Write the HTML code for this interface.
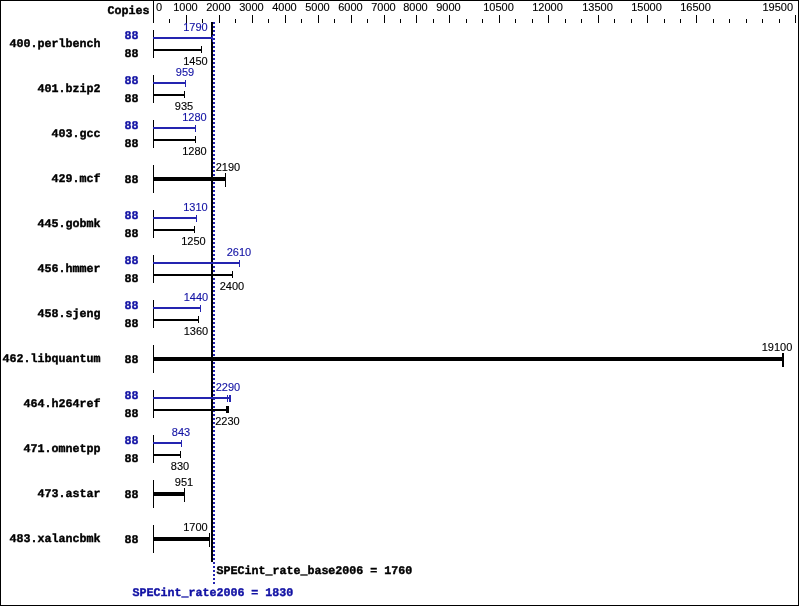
<!DOCTYPE html>
<html lang="en">
<head>
<meta charset="utf-8">
<title>SPECint_rate2006 result graph</title>
<style>
html, body { margin: 0; padding: 0; background: #fff; }
body { width: 799px; height: 606px; overflow: hidden; }
svg { display: block; }
svg rect { shape-rendering: crispEdges; }
text.n { font-family: "Liberation Sans", "DejaVu Sans", sans-serif; font-size: 11px; stroke-width: 0.12px; }
text.m { font-family: "Liberation Mono", "DejaVu Sans Mono", monospace; font-size: 11.67px; font-weight: bold; letter-spacing: -0.003px; stroke-width: 0.4px; text-rendering: geometricPrecision; }
</style>
</head>
<body>
<svg width="799" height="606" viewBox="0 0 799 606">
<rect x="0" y="0" width="799" height="606" fill="#fff"/>
<rect x="0" y="0" width="799" height="1" fill="#000"/>
<rect x="0" y="605" width="799" height="1" fill="#000"/>
<rect x="0" y="0" width="1" height="606" fill="#000"/>
<rect x="798" y="0" width="1" height="606" fill="#000"/>
<text class="m" x="107.5" y="14" fill="#000" stroke="#000">Copies</text>
<rect x="153" y="0" width="1" height="23" fill="#000"/>
<rect x="169" y="19" width="1" height="4" fill="#000"/>
<rect x="186" y="15" width="1" height="8" fill="#000"/>
<rect x="202" y="19" width="1" height="4" fill="#000"/>
<rect x="219" y="15" width="1" height="8" fill="#000"/>
<rect x="235" y="19" width="1" height="4" fill="#000"/>
<rect x="252" y="15" width="1" height="8" fill="#000"/>
<rect x="268" y="19" width="1" height="4" fill="#000"/>
<rect x="285" y="15" width="1" height="8" fill="#000"/>
<rect x="301" y="19" width="1" height="4" fill="#000"/>
<rect x="318" y="15" width="1" height="8" fill="#000"/>
<rect x="334" y="19" width="1" height="4" fill="#000"/>
<rect x="351" y="15" width="1" height="8" fill="#000"/>
<rect x="367" y="19" width="1" height="4" fill="#000"/>
<rect x="384" y="15" width="1" height="8" fill="#000"/>
<rect x="400" y="19" width="1" height="4" fill="#000"/>
<rect x="416" y="15" width="1" height="8" fill="#000"/>
<rect x="433" y="19" width="1" height="4" fill="#000"/>
<rect x="449" y="15" width="1" height="8" fill="#000"/>
<rect x="466" y="19" width="1" height="4" fill="#000"/>
<rect x="482" y="19" width="1" height="4" fill="#000"/>
<rect x="499" y="15" width="1" height="8" fill="#000"/>
<rect x="515" y="19" width="1" height="4" fill="#000"/>
<rect x="532" y="19" width="1" height="4" fill="#000"/>
<rect x="548" y="15" width="1" height="8" fill="#000"/>
<rect x="565" y="19" width="1" height="4" fill="#000"/>
<rect x="581" y="19" width="1" height="4" fill="#000"/>
<rect x="598" y="15" width="1" height="8" fill="#000"/>
<rect x="614" y="19" width="1" height="4" fill="#000"/>
<rect x="631" y="19" width="1" height="4" fill="#000"/>
<rect x="647" y="15" width="1" height="8" fill="#000"/>
<rect x="664" y="19" width="1" height="4" fill="#000"/>
<rect x="680" y="19" width="1" height="4" fill="#000"/>
<rect x="696" y="15" width="1" height="8" fill="#000"/>
<rect x="713" y="19" width="1" height="4" fill="#000"/>
<rect x="729" y="19" width="1" height="4" fill="#000"/>
<rect x="746" y="19" width="1" height="4" fill="#000"/>
<rect x="762" y="19" width="1" height="4" fill="#000"/>
<rect x="779" y="19" width="1" height="4" fill="#000"/>
<rect x="795" y="15" width="1" height="8" fill="#000"/>
<text class="n" x="156" y="11" text-anchor="start" fill="#000" stroke="#000">0</text>
<text class="n" x="185.5" y="11" text-anchor="middle" fill="#000" stroke="#000">1000</text>
<text class="n" x="218.5" y="11" text-anchor="middle" fill="#000" stroke="#000">2000</text>
<text class="n" x="251.5" y="11" text-anchor="middle" fill="#000" stroke="#000">3000</text>
<text class="n" x="284.5" y="11" text-anchor="middle" fill="#000" stroke="#000">4000</text>
<text class="n" x="317.5" y="11" text-anchor="middle" fill="#000" stroke="#000">5000</text>
<text class="n" x="350.5" y="11" text-anchor="middle" fill="#000" stroke="#000">6000</text>
<text class="n" x="383.5" y="11" text-anchor="middle" fill="#000" stroke="#000">7000</text>
<text class="n" x="415.5" y="11" text-anchor="middle" fill="#000" stroke="#000">8000</text>
<text class="n" x="448.5" y="11" text-anchor="middle" fill="#000" stroke="#000">9000</text>
<text class="n" x="498.5" y="11" text-anchor="middle" fill="#000" stroke="#000">10500</text>
<text class="n" x="547.5" y="11" text-anchor="middle" fill="#000" stroke="#000">12000</text>
<text class="n" x="597.5" y="11" text-anchor="middle" fill="#000" stroke="#000">13500</text>
<text class="n" x="646.5" y="11" text-anchor="middle" fill="#000" stroke="#000">15000</text>
<text class="n" x="695.5" y="11" text-anchor="middle" fill="#000" stroke="#000">16500</text>
<text class="n" x="793" y="11" text-anchor="end" fill="#000" stroke="#000">19500</text>
<rect x="211" y="22" width="2" height="540" fill="#000"/>
<rect x="213" y="22" width="2" height="2" fill="#2424b0"/>
<rect x="213" y="26" width="2" height="2" fill="#2424b0"/>
<rect x="213" y="30" width="2" height="2" fill="#2424b0"/>
<rect x="213" y="34" width="2" height="2" fill="#2424b0"/>
<rect x="213" y="38" width="2" height="2" fill="#2424b0"/>
<rect x="213" y="42" width="2" height="2" fill="#2424b0"/>
<rect x="213" y="46" width="2" height="2" fill="#2424b0"/>
<rect x="213" y="50" width="2" height="2" fill="#2424b0"/>
<rect x="213" y="54" width="2" height="2" fill="#2424b0"/>
<rect x="213" y="58" width="2" height="2" fill="#2424b0"/>
<rect x="213" y="62" width="2" height="2" fill="#2424b0"/>
<rect x="213" y="66" width="2" height="2" fill="#2424b0"/>
<rect x="213" y="70" width="2" height="2" fill="#2424b0"/>
<rect x="213" y="74" width="2" height="2" fill="#2424b0"/>
<rect x="213" y="78" width="2" height="2" fill="#2424b0"/>
<rect x="213" y="82" width="2" height="2" fill="#2424b0"/>
<rect x="213" y="86" width="2" height="2" fill="#2424b0"/>
<rect x="213" y="90" width="2" height="2" fill="#2424b0"/>
<rect x="213" y="94" width="2" height="2" fill="#2424b0"/>
<rect x="213" y="98" width="2" height="2" fill="#2424b0"/>
<rect x="213" y="102" width="2" height="2" fill="#2424b0"/>
<rect x="213" y="106" width="2" height="2" fill="#2424b0"/>
<rect x="213" y="110" width="2" height="2" fill="#2424b0"/>
<rect x="213" y="114" width="2" height="2" fill="#2424b0"/>
<rect x="213" y="118" width="2" height="2" fill="#2424b0"/>
<rect x="213" y="122" width="2" height="2" fill="#2424b0"/>
<rect x="213" y="126" width="2" height="2" fill="#2424b0"/>
<rect x="213" y="130" width="2" height="2" fill="#2424b0"/>
<rect x="213" y="134" width="2" height="2" fill="#2424b0"/>
<rect x="213" y="138" width="2" height="2" fill="#2424b0"/>
<rect x="213" y="142" width="2" height="2" fill="#2424b0"/>
<rect x="213" y="146" width="2" height="2" fill="#2424b0"/>
<rect x="213" y="150" width="2" height="2" fill="#2424b0"/>
<rect x="213" y="154" width="2" height="2" fill="#2424b0"/>
<rect x="213" y="158" width="2" height="2" fill="#2424b0"/>
<rect x="213" y="162" width="2" height="2" fill="#2424b0"/>
<rect x="213" y="166" width="2" height="2" fill="#2424b0"/>
<rect x="213" y="170" width="2" height="2" fill="#2424b0"/>
<rect x="213" y="174" width="2" height="2" fill="#2424b0"/>
<rect x="213" y="178" width="2" height="2" fill="#2424b0"/>
<rect x="213" y="182" width="2" height="2" fill="#2424b0"/>
<rect x="213" y="186" width="2" height="2" fill="#2424b0"/>
<rect x="213" y="190" width="2" height="2" fill="#2424b0"/>
<rect x="213" y="194" width="2" height="2" fill="#2424b0"/>
<rect x="213" y="198" width="2" height="2" fill="#2424b0"/>
<rect x="213" y="202" width="2" height="2" fill="#2424b0"/>
<rect x="213" y="206" width="2" height="2" fill="#2424b0"/>
<rect x="213" y="210" width="2" height="2" fill="#2424b0"/>
<rect x="213" y="214" width="2" height="2" fill="#2424b0"/>
<rect x="213" y="218" width="2" height="2" fill="#2424b0"/>
<rect x="213" y="222" width="2" height="2" fill="#2424b0"/>
<rect x="213" y="226" width="2" height="2" fill="#2424b0"/>
<rect x="213" y="230" width="2" height="2" fill="#2424b0"/>
<rect x="213" y="234" width="2" height="2" fill="#2424b0"/>
<rect x="213" y="238" width="2" height="2" fill="#2424b0"/>
<rect x="213" y="242" width="2" height="2" fill="#2424b0"/>
<rect x="213" y="246" width="2" height="2" fill="#2424b0"/>
<rect x="213" y="250" width="2" height="2" fill="#2424b0"/>
<rect x="213" y="254" width="2" height="2" fill="#2424b0"/>
<rect x="213" y="258" width="2" height="2" fill="#2424b0"/>
<rect x="213" y="262" width="2" height="2" fill="#2424b0"/>
<rect x="213" y="266" width="2" height="2" fill="#2424b0"/>
<rect x="213" y="270" width="2" height="2" fill="#2424b0"/>
<rect x="213" y="274" width="2" height="2" fill="#2424b0"/>
<rect x="213" y="278" width="2" height="2" fill="#2424b0"/>
<rect x="213" y="282" width="2" height="2" fill="#2424b0"/>
<rect x="213" y="286" width="2" height="2" fill="#2424b0"/>
<rect x="213" y="290" width="2" height="2" fill="#2424b0"/>
<rect x="213" y="294" width="2" height="2" fill="#2424b0"/>
<rect x="213" y="298" width="2" height="2" fill="#2424b0"/>
<rect x="213" y="302" width="2" height="2" fill="#2424b0"/>
<rect x="213" y="306" width="2" height="2" fill="#2424b0"/>
<rect x="213" y="310" width="2" height="2" fill="#2424b0"/>
<rect x="213" y="314" width="2" height="2" fill="#2424b0"/>
<rect x="213" y="318" width="2" height="2" fill="#2424b0"/>
<rect x="213" y="322" width="2" height="2" fill="#2424b0"/>
<rect x="213" y="326" width="2" height="2" fill="#2424b0"/>
<rect x="213" y="330" width="2" height="2" fill="#2424b0"/>
<rect x="213" y="334" width="2" height="2" fill="#2424b0"/>
<rect x="213" y="338" width="2" height="2" fill="#2424b0"/>
<rect x="213" y="342" width="2" height="2" fill="#2424b0"/>
<rect x="213" y="346" width="2" height="2" fill="#2424b0"/>
<rect x="213" y="350" width="2" height="2" fill="#2424b0"/>
<rect x="213" y="354" width="2" height="2" fill="#2424b0"/>
<rect x="213" y="358" width="2" height="2" fill="#2424b0"/>
<rect x="213" y="362" width="2" height="2" fill="#2424b0"/>
<rect x="213" y="366" width="2" height="2" fill="#2424b0"/>
<rect x="213" y="370" width="2" height="2" fill="#2424b0"/>
<rect x="213" y="374" width="2" height="2" fill="#2424b0"/>
<rect x="213" y="378" width="2" height="2" fill="#2424b0"/>
<rect x="213" y="382" width="2" height="2" fill="#2424b0"/>
<rect x="213" y="386" width="2" height="2" fill="#2424b0"/>
<rect x="213" y="390" width="2" height="2" fill="#2424b0"/>
<rect x="213" y="394" width="2" height="2" fill="#2424b0"/>
<rect x="213" y="398" width="2" height="2" fill="#2424b0"/>
<rect x="213" y="402" width="2" height="2" fill="#2424b0"/>
<rect x="213" y="406" width="2" height="2" fill="#2424b0"/>
<rect x="213" y="410" width="2" height="2" fill="#2424b0"/>
<rect x="213" y="414" width="2" height="2" fill="#2424b0"/>
<rect x="213" y="418" width="2" height="2" fill="#2424b0"/>
<rect x="213" y="422" width="2" height="2" fill="#2424b0"/>
<rect x="213" y="426" width="2" height="2" fill="#2424b0"/>
<rect x="213" y="430" width="2" height="2" fill="#2424b0"/>
<rect x="213" y="434" width="2" height="2" fill="#2424b0"/>
<rect x="213" y="438" width="2" height="2" fill="#2424b0"/>
<rect x="213" y="442" width="2" height="2" fill="#2424b0"/>
<rect x="213" y="446" width="2" height="2" fill="#2424b0"/>
<rect x="213" y="450" width="2" height="2" fill="#2424b0"/>
<rect x="213" y="454" width="2" height="2" fill="#2424b0"/>
<rect x="213" y="458" width="2" height="2" fill="#2424b0"/>
<rect x="213" y="462" width="2" height="2" fill="#2424b0"/>
<rect x="213" y="466" width="2" height="2" fill="#2424b0"/>
<rect x="213" y="470" width="2" height="2" fill="#2424b0"/>
<rect x="213" y="474" width="2" height="2" fill="#2424b0"/>
<rect x="213" y="478" width="2" height="2" fill="#2424b0"/>
<rect x="213" y="482" width="2" height="2" fill="#2424b0"/>
<rect x="213" y="486" width="2" height="2" fill="#2424b0"/>
<rect x="213" y="490" width="2" height="2" fill="#2424b0"/>
<rect x="213" y="494" width="2" height="2" fill="#2424b0"/>
<rect x="213" y="498" width="2" height="2" fill="#2424b0"/>
<rect x="213" y="502" width="2" height="2" fill="#2424b0"/>
<rect x="213" y="506" width="2" height="2" fill="#2424b0"/>
<rect x="213" y="510" width="2" height="2" fill="#2424b0"/>
<rect x="213" y="514" width="2" height="2" fill="#2424b0"/>
<rect x="213" y="518" width="2" height="2" fill="#2424b0"/>
<rect x="213" y="522" width="2" height="2" fill="#2424b0"/>
<rect x="213" y="526" width="2" height="2" fill="#2424b0"/>
<rect x="213" y="530" width="2" height="2" fill="#2424b0"/>
<rect x="213" y="534" width="2" height="2" fill="#2424b0"/>
<rect x="213" y="538" width="2" height="2" fill="#2424b0"/>
<rect x="213" y="542" width="2" height="2" fill="#2424b0"/>
<rect x="213" y="546" width="2" height="2" fill="#2424b0"/>
<rect x="213" y="550" width="2" height="2" fill="#2424b0"/>
<rect x="213" y="554" width="2" height="2" fill="#2424b0"/>
<rect x="213" y="558" width="2" height="2" fill="#2424b0"/>
<rect x="213" y="562" width="2" height="2" fill="#2424b0"/>
<rect x="213" y="566" width="2" height="2" fill="#2424b0"/>
<rect x="213" y="570" width="2" height="2" fill="#2424b0"/>
<rect x="213" y="574" width="2" height="2" fill="#2424b0"/>
<rect x="213" y="578" width="2" height="2" fill="#2424b0"/>
<rect x="213" y="582" width="2" height="2" fill="#2424b0"/>
<rect x="153" y="30" width="1" height="28" fill="#000"/>
<text class="m" x="9.5" y="47" fill="#000" stroke="#000">400.perlbench</text>
<text class="m" x="124.5" y="39" fill="#1212a4" stroke="#1212a4">88</text>
<rect x="153" y="37" width="60" height="2" fill="#2424b0"/>
<rect x="212" y="35" width="1" height="7" fill="#2424b0"/>
<text class="n" x="195.5" y="31" text-anchor="middle" fill="#1212a4" stroke="#1212a4">1790</text>
<text class="m" x="124.5" y="57" fill="#000" stroke="#000">88</text>
<rect x="153" y="49" width="49" height="2" fill="#000"/>
<rect x="201" y="46" width="1" height="7" fill="#000"/>
<text class="n" x="195.5" y="65" text-anchor="middle" fill="#000" stroke="#000">1450</text>
<rect x="153" y="75" width="1" height="28" fill="#000"/>
<text class="m" x="37.5" y="92" fill="#000" stroke="#000">401.bzip2</text>
<text class="m" x="124.5" y="84" fill="#1212a4" stroke="#1212a4">88</text>
<rect x="153" y="82" width="33" height="2" fill="#2424b0"/>
<rect x="185" y="80" width="1" height="7" fill="#2424b0"/>
<text class="n" x="185.0" y="76" text-anchor="middle" fill="#1212a4" stroke="#1212a4">959</text>
<text class="m" x="124.5" y="102" fill="#000" stroke="#000">88</text>
<rect x="153" y="94" width="32" height="2" fill="#000"/>
<rect x="184" y="91" width="1" height="7" fill="#000"/>
<text class="n" x="184.0" y="110" text-anchor="middle" fill="#000" stroke="#000">935</text>
<rect x="153" y="120" width="1" height="28" fill="#000"/>
<text class="m" x="51.5" y="137" fill="#000" stroke="#000">403.gcc</text>
<text class="m" x="124.5" y="129" fill="#1212a4" stroke="#1212a4">88</text>
<rect x="153" y="127" width="43" height="2" fill="#2424b0"/>
<rect x="195" y="125" width="1" height="7" fill="#2424b0"/>
<text class="n" x="194.5" y="121" text-anchor="middle" fill="#1212a4" stroke="#1212a4">1280</text>
<text class="m" x="124.5" y="147" fill="#000" stroke="#000">88</text>
<rect x="153" y="139" width="43" height="2" fill="#000"/>
<rect x="195" y="136" width="1" height="7" fill="#000"/>
<text class="n" x="194.5" y="155" text-anchor="middle" fill="#000" stroke="#000">1280</text>
<rect x="153" y="165" width="1" height="28" fill="#000"/>
<text class="m" x="51.5" y="182" fill="#000" stroke="#000">429.mcf</text>
<text class="m" x="124.5" y="183" fill="#000" stroke="#000">88</text>
<rect x="153" y="177" width="73" height="4" fill="#000"/>
<rect x="225" y="173" width="1" height="14" fill="#000"/>
<text class="n" x="228.0" y="171" text-anchor="middle" fill="#000" stroke="#000">2190</text>
<rect x="153" y="210" width="1" height="28" fill="#000"/>
<text class="m" x="37.5" y="227" fill="#000" stroke="#000">445.gobmk</text>
<text class="m" x="124.5" y="219" fill="#1212a4" stroke="#1212a4">88</text>
<rect x="153" y="217" width="44" height="2" fill="#2424b0"/>
<rect x="196" y="215" width="1" height="7" fill="#2424b0"/>
<text class="n" x="195.5" y="211" text-anchor="middle" fill="#1212a4" stroke="#1212a4">1310</text>
<text class="m" x="124.5" y="237" fill="#000" stroke="#000">88</text>
<rect x="153" y="229" width="42" height="2" fill="#000"/>
<rect x="194" y="226" width="1" height="7" fill="#000"/>
<text class="n" x="193.5" y="245" text-anchor="middle" fill="#000" stroke="#000">1250</text>
<rect x="153" y="255" width="1" height="28" fill="#000"/>
<text class="m" x="37.5" y="272" fill="#000" stroke="#000">456.hmmer</text>
<text class="m" x="124.5" y="264" fill="#1212a4" stroke="#1212a4">88</text>
<rect x="153" y="262" width="87" height="2" fill="#2424b0"/>
<rect x="239" y="260" width="1" height="7" fill="#2424b0"/>
<text class="n" x="239.0" y="256" text-anchor="middle" fill="#1212a4" stroke="#1212a4">2610</text>
<text class="m" x="124.5" y="282" fill="#000" stroke="#000">88</text>
<rect x="153" y="274" width="80" height="2" fill="#000"/>
<rect x="232" y="271" width="1" height="7" fill="#000"/>
<text class="n" x="232.0" y="290" text-anchor="middle" fill="#000" stroke="#000">2400</text>
<rect x="153" y="300" width="1" height="28" fill="#000"/>
<text class="m" x="37.5" y="317" fill="#000" stroke="#000">458.sjeng</text>
<text class="m" x="124.5" y="309" fill="#1212a4" stroke="#1212a4">88</text>
<rect x="153" y="307" width="48" height="2" fill="#2424b0"/>
<rect x="200" y="305" width="1" height="7" fill="#2424b0"/>
<text class="n" x="196.0" y="301" text-anchor="middle" fill="#1212a4" stroke="#1212a4">1440</text>
<text class="m" x="124.5" y="327" fill="#000" stroke="#000">88</text>
<rect x="153" y="319" width="46" height="2" fill="#000"/>
<rect x="198" y="316" width="1" height="7" fill="#000"/>
<text class="n" x="196.0" y="335" text-anchor="middle" fill="#000" stroke="#000">1360</text>
<rect x="153" y="345" width="1" height="28" fill="#000"/>
<text class="m" x="2.5" y="362" fill="#000" stroke="#000">462.libquantum</text>
<text class="m" x="124.5" y="363" fill="#000" stroke="#000">88</text>
<rect x="153" y="357" width="630" height="4" fill="#000"/>
<rect x="782" y="353" width="2" height="14" fill="#000"/>
<text class="n" x="777.0" y="351" text-anchor="middle" fill="#000" stroke="#000">19100</text>
<rect x="153" y="390" width="1" height="28" fill="#000"/>
<text class="m" x="23.5" y="407" fill="#000" stroke="#000">464.h264ref</text>
<text class="m" x="124.5" y="399" fill="#1212a4" stroke="#1212a4">88</text>
<rect x="153" y="397" width="78" height="2" fill="#2424b0"/>
<rect x="227" y="395" width="1" height="7" fill="#2424b0"/>
<rect x="229" y="395" width="2" height="7" fill="#2424b0"/>
<text class="n" x="228.0" y="391" text-anchor="middle" fill="#1212a4" stroke="#1212a4">2290</text>
<text class="m" x="124.5" y="417" fill="#000" stroke="#000">88</text>
<rect x="153" y="409" width="76" height="2" fill="#000"/>
<rect x="226" y="406" width="3" height="7" fill="#000"/>
<text class="n" x="227.5" y="425" text-anchor="middle" fill="#000" stroke="#000">2230</text>
<rect x="153" y="435" width="1" height="28" fill="#000"/>
<text class="m" x="23.5" y="452" fill="#000" stroke="#000">471.omnetpp</text>
<text class="m" x="124.5" y="444" fill="#1212a4" stroke="#1212a4">88</text>
<rect x="153" y="442" width="29" height="2" fill="#2424b0"/>
<rect x="181" y="440" width="1" height="7" fill="#2424b0"/>
<text class="n" x="181.0" y="436" text-anchor="middle" fill="#1212a4" stroke="#1212a4">843</text>
<text class="m" x="124.5" y="462" fill="#000" stroke="#000">88</text>
<rect x="153" y="454" width="28" height="2" fill="#000"/>
<rect x="180" y="451" width="1" height="7" fill="#000"/>
<text class="n" x="180.0" y="470" text-anchor="middle" fill="#000" stroke="#000">830</text>
<rect x="153" y="480" width="1" height="28" fill="#000"/>
<text class="m" x="37.5" y="497" fill="#000" stroke="#000">473.astar</text>
<text class="m" x="124.5" y="498" fill="#000" stroke="#000">88</text>
<rect x="153" y="492" width="32" height="4" fill="#000"/>
<rect x="184" y="488" width="1" height="14" fill="#000"/>
<text class="n" x="184.0" y="486" text-anchor="middle" fill="#000" stroke="#000">951</text>
<rect x="153" y="525" width="1" height="28" fill="#000"/>
<text class="m" x="9.5" y="542" fill="#000" stroke="#000">483.xalancbmk</text>
<text class="m" x="124.5" y="543" fill="#000" stroke="#000">88</text>
<rect x="153" y="537" width="57" height="4" fill="#000"/>
<rect x="209" y="533" width="1" height="14" fill="#000"/>
<text class="n" x="195.5" y="531" text-anchor="middle" fill="#000" stroke="#000">1700</text>
<text class="m" x="216.5" y="574" fill="#000" stroke="#000">SPECint_rate_base2006 = 1760</text>
<text class="m" x="132.5" y="596" fill="#1212a4" stroke="#1212a4">SPECint_rate2006 = 1830</text>
</svg>
</body>
</html>
